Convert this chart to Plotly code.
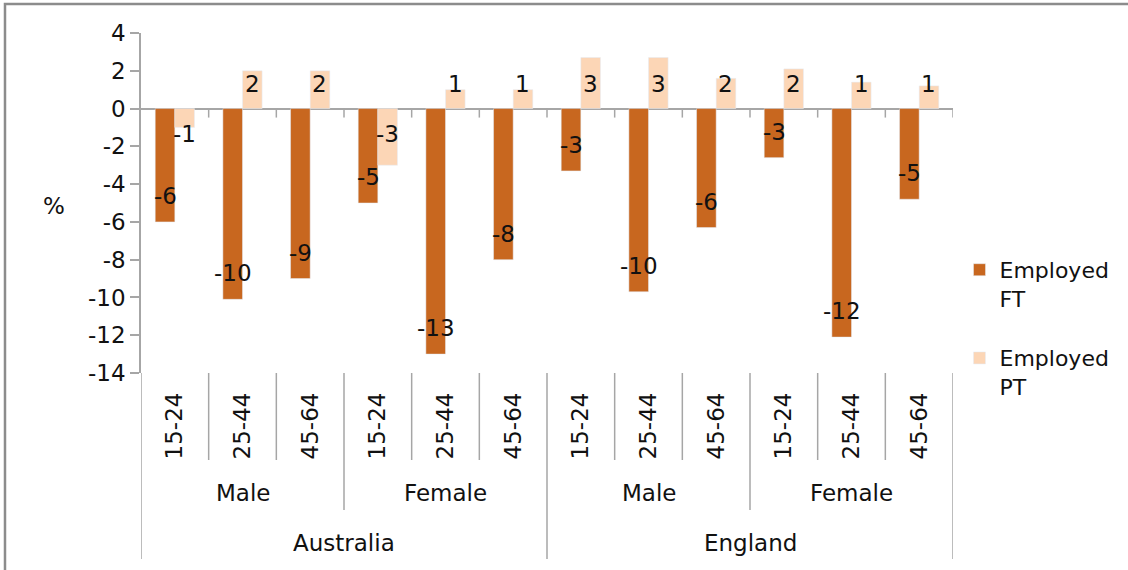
import plotly.graph_objects as go

# categories (three levels, innermost first)
ages = ["15-24", "25-44", "45-64"]
sexes = ["Male", "Female"]
countries = ["Australia", "England"]

# change in employment, %
ft = [-6.0, -10.1, -9.0, -5.0, -13.0, -8.0, -3.3, -9.7, -6.3, -2.6, -12.1, -4.8]
pt = [-1.0, 2.0, 2.0, -3.0, 1.0, 1.0, 2.7, 2.7, 1.6, 2.1, 1.4, 1.2]

y_ticks = list(range(-14, 5, 2))

ft_color = "#C8671F"
pt_color = "#FCD6B6"
line_gray = "#A6A6A6"
font = dict(family="DejaVu Sans", size=23, color="#111111")

n = len(ages) * len(sexes) * len(countries)
x = list(range(n))
bargap = 0.42
half = (1 - bargap) / 4  # centre of each bar inside the group

fig = go.Figure()
fig.add_trace(go.Bar(x=x, y=ft, name="Employed<br>FT", marker_color=ft_color,
                     legendgroup="ft"))
fig.add_trace(go.Bar(x=x, y=pt, name="Employed<br>PT", marker_color=pt_color,
                     legendgroup="pt"))

# data labels
for i in x:
    fig.add_annotation(x=i - half, y=ft[i], text=str(round(ft[i])), showarrow=False,
                       yanchor="middle", yshift=26, font=font)
    fig.add_annotation(x=i + half, y=0, text=str(round(pt[i])), showarrow=False,
                       yanchor="middle", yshift=25 if pt[i] > 0 else -25, font=font)

# little ticks on the zero line between categories
for k in range(1, n + 1):
    fig.add_shape(type="line", xref="x", yref="y", x0=k - 0.5, x1=k - 0.5,
                  ysizemode="pixel", yanchor=0, y0=0, y1=-9,
                  line=dict(color=line_gray, width=1.5))

# dividers of the category table under the plot
na, ns = len(ages), len(ages) * len(sexes)
for k in range(n + 1):
    if k % ns == 0:
        depth = 186
    elif k % na == 0:
        depth = 137
    else:
        depth = 87
    fig.add_shape(type="line", xref="x", yref="paper", x0=k - 0.5, x1=k - 0.5,
                  ysizemode="pixel", yanchor=0, y0=0, y1=-depth,
                  line=dict(color=line_gray, width=1.5))

# sex and country labels
for c, country in enumerate(countries):
    fig.add_annotation(x=c * ns + (ns - 1) / 2, y=0, xref="x", yref="paper",
                       text=country, showarrow=False, yanchor="middle",
                       yshift=-170, font=font)
    for s, sex in enumerate(sexes):
        fig.add_annotation(x=c * ns + s * na + (na - 1) / 2, y=0, xref="x", yref="paper",
                           text=sex, showarrow=False, yanchor="middle",
                           yshift=-120, font=font)

fig.add_annotation(x=-0.107, y=0.49, xref="paper", yref="paper", text="%",
                   showarrow=False, xanchor="center", yanchor="middle", font=font)

# chart border (only top and left edges fall inside the picture)
fig.add_shape(type="rect", xref="paper", yref="paper", x0=-0.1675, x1=1.25,
              y0=-0.7, y1=1.0853, line=dict(color="#8C8C8C", width=2.5))

fig.update_layout(
    width=1128, height=570, autosize=False,
    margin=dict(l=141, r=175, t=33, b=197),
    paper_bgcolor="white", plot_bgcolor="white",
    barmode="group", bargap=bargap, bargroupgap=0,
    font=font,
    showlegend=True,
    legend=dict(x=1.008, xanchor="left", y=0.365, yanchor="top",
                traceorder="grouped", tracegroupgap=28, valign="top",
                font=dict(family="DejaVu Sans", size=22, color="#111111")),
    xaxis=dict(range=[-0.5, n - 0.5], tickvals=x, ticktext=ages * (n // na),
               tickangle=-90, ticks="", showline=False, showgrid=False,
               zeroline=False, ticklabelstandoff=14, tickfont=font),
    yaxis=dict(range=[-14, 4], tickvals=y_ticks, ticktext=[str(v) for v in y_ticks],
               ticks="outside", ticklen=9,
               tickcolor=line_gray, tickwidth=1.5, showline=True,
               linecolor=line_gray, linewidth=1.5, showgrid=False,
               zeroline=True, zerolinecolor=line_gray, zerolinewidth=2,
               ticklabelstandoff=0, tickfont=font),
)

fig.write_html("out.html", config={"displayModeBar": False},
               post_script="document.body.style.margin='0';")
